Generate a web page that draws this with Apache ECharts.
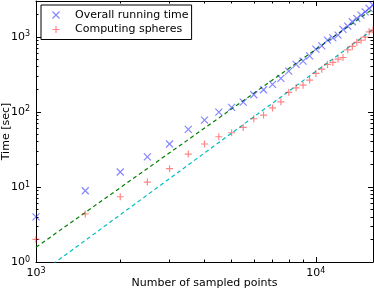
<!DOCTYPE html>
<html>
<head>
<meta charset="utf-8">
<script src="https://cdn.jsdelivr.net/npm/echarts@6/dist/echarts.min.js"></script>
<style>html,body{margin:0;padding:0;background:#fff;}#c{width:374px;height:290px;}</style>
</head>
<body>
<div id="c"></div>
<script>
var sampledPoints = [1000,1500,2000,2500,3000,3500,4000,4500,5000,5500,6000,6500,7000,7500,8000,8500,9000,9500,10000,10500,11000,11500,12000,12500,13000,13500,14000,14500,15000,15500,16000];
var overallTime = [4.0,8.9,15.8,25.2,37.3,58.5,77.8,99.4,114.8,135,169,197,232,279,349,429,475,558,686,759,904,970,1054,1254,1388,1585,1758,1945,2153,2388,2643];
var spheresTime = [2.0,4.36,7.4,11.6,17.5,27.4,37.3,46.6,52.7,62.1,81,90.7,113,136,182,209,227,265,325,371,429,456,505,530,670,745,845,900,990,1166,1228];
var overallFitX = [1000,16000];
var overallFitY = [1.57,2355];
var spheresFitX = [1000,16000];
var spheresFitY = [0.641,1253];
var xMajorTicks = [1000,10000];
var xMinorTicks = [2000,3000,4000,5000,6000,7000,8000,9000];
var yMajorTicks = [1,10,100,1000];
var yMinorTicks = [2,3,4,5,6,7,8,9,20,30,40,50,60,70,80,90,200,300,400,500,600,700,800,900,2000,3000];
var xRange = [1000,16000];
var yRange = [1,3000];

function zip(a,b){return a.map(function(v,i){return [v,b[i]];});}
var FONT = 'DejaVu Sans';
function pow10(v){return '10{s|' + Math.round(Math.log10(v)) + '}';}
var richSup = {s:{fontSize:8,verticalAlign:'top',fontFamily:FONT,color:'#000',padding:[0,0,5,0]}};

function xAx(pos, ticks, len, showLine, labels){
  return {type:'log', logBase:10, min:xRange[0], max:xRange[1], position:pos,
    axisLine:{show:showLine, lineStyle:{color:'#000',width:1}},
    axisTick:{show:true, inside:true, length:len, customValues:ticks, lineStyle:{color:'#000',width:1}},
    axisLabel:labels ? {show:true, customValues:xMajorTicks, formatter:pow10, rich:richSup, fontFamily:FONT, fontSize:11, color:'#000', margin:5} : {show:false},
    splitLine:{show:false}, minorTick:{show:false}};
}
function yAx(pos, ticks, len, showLine, labels){
  return {type:'log', logBase:10, min:yRange[0], max:yRange[1], position:pos,
    axisLine:{show:showLine, lineStyle:{color:'#000',width:1}},
    axisTick:{show:true, inside:true, length:len, customValues:ticks, lineStyle:{color:'#000',width:1}},
    axisLabel:labels ? {show:true, customValues:yMajorTicks, formatter:pow10, rich:richSup, fontFamily:FONT, fontSize:11, color:'#000', margin:6} : {show:false},
    splitLine:{show:false}, minorTick:{show:false}};
}
var xa0 = xAx('bottom', xMajorTicks, 5, true, true);
xa0.name = 'Number of sampled points'; xa0.nameLocation = 'middle'; xa0.nameGap = 16; xa0.nameMoveOverlap = false;
xa0.nameTextStyle = {fontFamily:FONT, fontSize:11, color:'#000'};
var ya0 = yAx('left', yMajorTicks, 5, true, true);
ya0.name = 'Time [sec]'; ya0.nameLocation = 'middle'; ya0.nameGap = 24; ya0.nameMoveOverlap = false;
ya0.nameTextStyle = {fontFamily:FONT, fontSize:11, color:'#000'};

var xSym = 'path://M0,0L10,10M10,0L0,10';
var pSym = 'path://M5,0L5,10M0,5L10,5';

var chart = echarts.init(document.getElementById('c'), null, {renderer:'canvas'});
chart.setOption({
  backgroundColor:'#fff',
  animation:false,
  textStyle:{fontFamily:FONT},
  grid:{left:36, right:1, top:1, bottom:28, containLabel:false, outerBoundsMode:'none'},
  legend:{
    show:true, orient:'vertical', left:41, top:5,
    borderColor:'#000', borderWidth:1, borderRadius:0, backgroundColor:'#fff',
    padding:[4,3,4,9], itemGap:2.5, itemWidth:28, itemHeight:7, symbolKeepAspect:true,
    textStyle:{fontFamily:FONT, fontSize:11, color:'#000'},
    data:[
      {name:'Overall running time', itemStyle:{color:'none', borderColor:'rgba(0,0,255,0.6)', borderWidth:1.2}},
      {name:'Computing spheres', itemStyle:{color:'none', borderColor:'rgba(255,0,0,0.6)', borderWidth:1.2}}
    ]
  },
  xAxis:[xa0, xAx('bottom', xMinorTicks, 2.5, false, false), xAx('top', xMajorTicks, 5, true, false), xAx('top', xMinorTicks, 2.5, false, false)],
  yAxis:[ya0, yAx('left', yMinorTicks, 2.5, false, false), yAx('right', yMajorTicks, 5, true, false), yAx('right', yMinorTicks, 2.5, false, false)],
  series:[
    {name:'fit overall', type:'line', data:zip(overallFitX, overallFitY), showSymbol:false, symbol:'none',
     lineStyle:{color:'#008000', width:1.2, type:[4,3]}, clip:true, z:2, silent:true},
    {name:'fit spheres', type:'line', data:zip(spheresFitX, spheresFitY), showSymbol:false, symbol:'none',
     lineStyle:{color:'#00bfbf', width:1.2, type:[4,3]}, clip:true, z:2, silent:true},
    {name:'Overall running time', type:'scatter', data:zip(sampledPoints, overallTime), symbol:xSym, symbolSize:7,
     itemStyle:{color:'none', borderColor:'rgba(0,0,255,0.6)', borderWidth:1.2}, z:3},
    {name:'Computing spheres', type:'scatter', data:zip(sampledPoints, spheresTime), symbol:pSym, symbolSize:7,
     itemStyle:{color:'none', borderColor:'rgba(255,0,0,0.6)', borderWidth:1.2}, z:3}
  ]
});
</script>
</body>
</html>
